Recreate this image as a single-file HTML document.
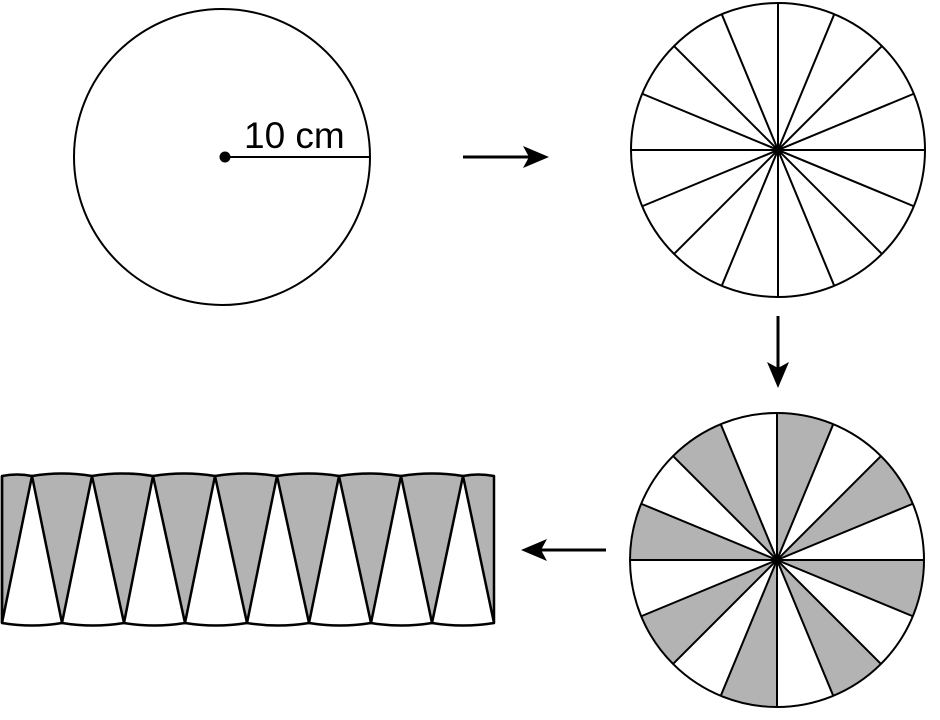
<!DOCTYPE html>
<html><head><style>html,body{margin:0;padding:0;background:#fff;}svg{display:block;}</style></head>
<body>
<svg width="940" height="720" viewBox="0 0 940 720" xmlns="http://www.w3.org/2000/svg">
<!-- circle 1 -->
<circle cx="222" cy="157" r="148" fill="none" stroke="#000" stroke-width="2"/>
<line x1="225" y1="157" x2="369" y2="157" stroke="#000" stroke-width="2"/>
<circle cx="225" cy="157" r="5.5" fill="#000"/>
<text x="244" y="148" font-family="Liberation Sans, sans-serif" font-size="37" fill="#000">10 cm</text>
<!-- arrows -->
<line x1="463" y1="157" x2="530" y2="157" stroke="#000" stroke-width="3"/>
<polygon points="549,157 523,146 529,157 523,168" fill="#000"/>
<line x1="778" y1="316" x2="778" y2="370" stroke="#000" stroke-width="3"/>
<polygon points="778,388 767,362 778,368 789,362" fill="#000"/>
<line x1="606" y1="550" x2="540" y2="550" stroke="#000" stroke-width="3"/>
<polygon points="521,550 547,539 541,550 547,561" fill="#000"/>
<!-- circle 2 -->
<g transform="translate(778,150)">
<circle r="147" fill="none" stroke="#000" stroke-width="2"/>
<g stroke="#000" stroke-width="2">
<line x1="0" y1="-147" x2="0" y2="147"/>
<line x1="0" y1="-147" x2="0" y2="147" transform="rotate(22.5)"/>
<line x1="0" y1="-147" x2="0" y2="147" transform="rotate(45)"/>
<line x1="0" y1="-147" x2="0" y2="147" transform="rotate(67.5)"/>
<line x1="0" y1="-147" x2="0" y2="147" transform="rotate(90)"/>
<line x1="0" y1="-147" x2="0" y2="147" transform="rotate(112.5)"/>
<line x1="0" y1="-147" x2="0" y2="147" transform="rotate(135)"/>
<line x1="0" y1="-147" x2="0" y2="147" transform="rotate(157.5)"/>
</g>
</g>
<!-- circle 3 -->
<g transform="translate(777,560)">
<g fill="#b3b3b3">
<path d="M0 0 L0 -147 A147 147 0 0 1 56.25 -135.81 Z"/>
<path d="M0 0 L0 -147 A147 147 0 0 1 56.25 -135.81 Z" transform="rotate(45)"/>
<path d="M0 0 L0 -147 A147 147 0 0 1 56.25 -135.81 Z" transform="rotate(90)"/>
<path d="M0 0 L0 -147 A147 147 0 0 1 56.25 -135.81 Z" transform="rotate(135)"/>
<path d="M0 0 L0 -147 A147 147 0 0 1 56.25 -135.81 Z" transform="rotate(180)"/>
<path d="M0 0 L0 -147 A147 147 0 0 1 56.25 -135.81 Z" transform="rotate(225)"/>
<path d="M0 0 L0 -147 A147 147 0 0 1 56.25 -135.81 Z" transform="rotate(270)"/>
<path d="M0 0 L0 -147 A147 147 0 0 1 56.25 -135.81 Z" transform="rotate(315)"/>
</g>
<circle r="147" fill="none" stroke="#000" stroke-width="2"/>
<g stroke="#000" stroke-width="2">
<line x1="0" y1="-147" x2="0" y2="147"/>
<line x1="0" y1="-147" x2="0" y2="147" transform="rotate(22.5)"/>
<line x1="0" y1="-147" x2="0" y2="147" transform="rotate(45)"/>
<line x1="0" y1="-147" x2="0" y2="147" transform="rotate(67.5)"/>
<line x1="0" y1="-147" x2="0" y2="147" transform="rotate(90)"/>
<line x1="0" y1="-147" x2="0" y2="147" transform="rotate(112.5)"/>
<line x1="0" y1="-147" x2="0" y2="147" transform="rotate(135)"/>
<line x1="0" y1="-147" x2="0" y2="147" transform="rotate(157.5)"/>
</g>
</g>
<!-- strip -->
<g fill="#b3b3b3" stroke="#000" stroke-width="2.5" stroke-linejoin="round">
<path d="M2 476 Q17 473 32 476 L2 623 Z"/>
<path d="M32 476 Q62 471 92 476 L62 623 Z"/>
<path d="M92 476 Q122 471 153 476 L124 623 Z"/>
<path d="M153 476 Q184 471 215 476 L185 623 Z"/>
<path d="M215 476 Q246 471 277 476 L247 623 Z"/>
<path d="M277 476 Q308 471 339 476 L309 623 Z"/>
<path d="M339 476 Q370 471 401 476 L371 623 Z"/>
<path d="M401 476 Q432 471 463 476 L432 623 Z"/>
<path d="M463 476 Q478 473 494 476 L494 623 Z"/>
</g>
<g fill="none" stroke="#000" stroke-width="2.5">
<path d="M2 623 Q32 628 62 623 Q93 628 124 623 Q154 628 185 623 Q216 628 247 623 Q278 628 309 623 Q340 628 371 623 Q401 628 432 623 Q463 628 494 623"/>
<line x1="2" y1="476" x2="2" y2="623"/>
</g>
</svg>
</body></html>
